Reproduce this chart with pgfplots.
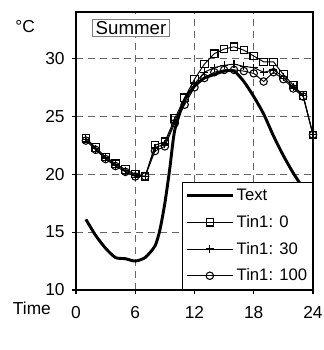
\documentclass[border=0pt]{standalone}
\usepackage{pgfplots}
\pgfplotsset{compat=1.18}
\usepackage{fontspec}
\setmainfont{Liberation Sans}
\begin{document}
\begin{tikzpicture}[x=1pt,y=1pt]
\useasboundingbox (-57pt,-45pt) rectangle (186pt,217.5pt);
\fill[white] (-57pt,-45pt) rectangle (186pt,217.5pt);
\begin{axis}[
  at={(0,0)}, anchor=south west,
  width=177.75pt, height=208.5pt, scale only axis,
  xmin=0, xmax=24, ymin=10, ymax=34,
  xtick={0,6,12,18,24}, ytick={10,15,20,25,30},
  tick pos=left, tick align=outside, major tick length=3pt,
  axis line style={line width=1.3pt},
  tick style={line width=0.8pt, black},
  grid=major,
  major grid style={dash pattern=on 5pt off 4pt, gray!80!black, line width=0.7pt},
  font=\fontsize{13}{15}\selectfont,
  /pgf/number format/assume math mode=true,
  xticklabel style={anchor=base, yshift=-18pt},
  yticklabel style={xshift=-2pt},
  legend style={at={(1,0)}, anchor=south east, draw=black, line width=0.8pt,
    font=\fontsize{12.5}{14}\selectfont, row sep=5.5pt, inner xsep=2pt, inner ysep=3pt,
    cells={anchor=west}},
  legend image code/.code={\draw[mark repeat=2,mark phase=2,#1] plot coordinates {(0cm,0cm) (0.6cm,0cm) (1.2cm,0cm)};},
  clip=false,
]
\addplot[black, line width=2.2pt, smooth, tension=0.4] coordinates {
(1,16.1) (2,14.7) (3,13.6) (4,12.8) (5,12.7) (6,12.5) (7,12.8) (8,13.8) (8.5,15.2) (9,17.5) (9.5,20.5) (10,23.8)
(11,26.4) (12,27.6) (13,28.3) (14,28.6) (15,28.9) (16,28.9) (17,28.0) (18,26.7) (19,25.2) (20,23.3)
(21,21.6) (22,20.1) (23,18.8) (24,17.6)};
\addlegendentry{Text}
\addplot[black, line width=0.7pt, mark=square, mark size=2.8pt, mark options={line width=0.8pt}] coordinates {
(1,23.1) (2,22.3) (3,21.5) (4,20.9) (5,20.4) (6,20.0) (7,19.8) (8,22.5) (9,22.8) (10,24.8)
(11,26.6) (12,28.2) (13,29.5) (14,30.4) (15,30.8) (16,31.0) (17,30.7) (18,30.2) (19,29.7) (20,29.7)
(21,28.6) (22,27.7) (23,26.8) (24,23.4)};
\addlegendentry{Tin1: 0}
\addplot[black, line width=0.7pt, mark=+, mark size=3pt, mark options={line width=0.9pt}] coordinates {
(1,23.0) (2,22.2) (3,21.4) (4,20.8) (5,20.3) (6,19.9) (7,19.8) (8,22.3) (9,22.6) (10,24.6)
(11,26.3) (12,27.8) (13,28.8) (14,29.2) (15,29.4) (16,29.5) (17,29.3) (18,29.2) (19,28.8) (20,29.0)
(21,28.4) (22,27.5) (23,26.8) (24,23.4)};
\addlegendentry{Tin1: 30}
\addplot[black, line width=0.7pt, mark=o, mark size=2.8pt, mark options={line width=0.8pt}] coordinates {
(1,22.9) (2,22.1) (3,21.3) (4,20.7) (5,20.2) (6,19.8) (7,19.8) (8,22.0) (9,22.4) (10,24.4)
(11,26.0) (12,27.5) (13,28.3) (14,28.8) (15,29.0) (16,29.0) (17,28.9) (18,28.7) (19,28.0) (20,28.8)
(21,28.2) (22,27.4) (23,26.7) (24,23.4)};
\addlegendentry{Tin1: 100}
\node[draw=gray, line width=0.7pt, fill=white, inner xsep=2.5pt, inner ysep=1.5pt, font=\fontsize{14}{16}\selectfont] at (rel axis cs:0.232,0.942) {Summer};
\node[font=\fontsize{13}{15}\selectfont] at (rel axis cs:-0.215,0.946) {°C};
\node[font=\fontsize{13}{15}\selectfont, anchor=base] at (rel axis cs:-0.186,0) [yshift=-18pt] {Time};
\end{axis}
\end{tikzpicture}
\end{document}
